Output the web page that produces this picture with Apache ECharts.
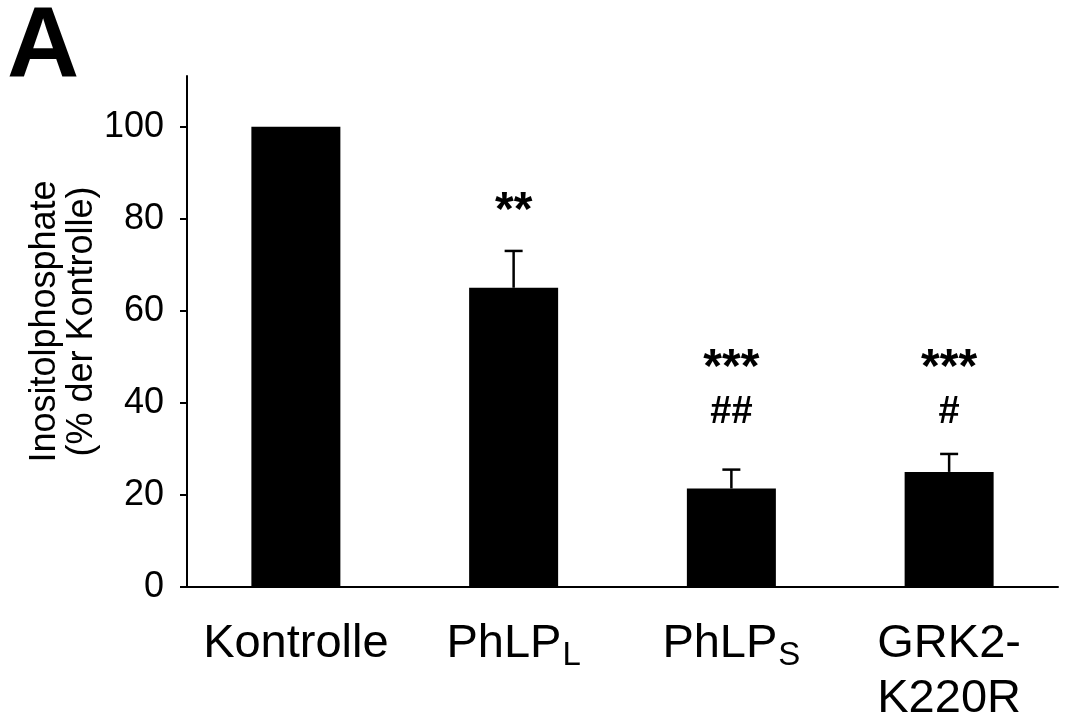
<!DOCTYPE html>
<html>
<head>
<meta charset="utf-8">
<script src="https://cdn.jsdelivr.net/npm/echarts@6/dist/echarts.min.js"></script>
<style>
  html, body { margin: 0; padding: 0; background: #fff; }
</style>
</head>
<body>
<div id="myChart" style="width: 1079px; height: 713px;"></div>
<script>
  // Daten
  var categories = ['Kontrolle', 'PhLP_L', 'PhLP_S', 'GRK2-\nK220R'];
  var values = [100, 65, 21.4, 25];
  var errors = [0, 8, 4.1, 3.9];
  var yTicks = [0, 20, 40, 60, 80, 100];
  // Signifikanz-Markierungen (Text + Höhe in Achsen-Einheiten)
  var sigStars = ['', '**', '***', '***'];
  var sigStarsY = [0, 81.5, 47.3, 47.3];
  var sigHash = ['', '', '##', '#'];
  var sigHashY = [0, 0, 37.9, 37.9];

  var FONT = '"Liberation Sans", Arial, Helvetica, sans-serif';

  var myChart = echarts.init(document.getElementById('myChart'));

  function sigData(texts, ys, size) {
    var out = [];
    for (var i = 0; i < texts.length; i++) {
      if (texts[i]) out.push([i, ys[i], texts[i], size]);
    }
    return out;
  }
  var sigAll = sigData(sigStars, sigStarsY, 48).concat(sigData(sigHash, sigHashY, 38));

  // Text-Markierung über custom series
  function renderSig(params, api) {
    var d = sigAll[params.dataIndex];
    var p = api.coord([api.value(0), api.value(1)]);
    return {
      type: 'text',
      x: p[0],
      y: p[1],
      style: {
        text: d[2],
        fill: '#000',
        font: 'bold ' + d[3] + 'px ' + FONT,
        textAlign: 'center',
        textVerticalAlign: 'middle'
      }
    };
  }

  myChart.setOption({
    animation: false,
    backgroundColor: '#fff',
    title: {
      text: 'A',
      left: 2,
      top: -6,
      textStyle: { fontSize: 100, fontWeight: 'bold', color: '#000', fontFamily: FONT }
    },
    grid: { left: 187, right: 21, top: 76, bottom: 126, outerBoundsMode: 'none', containLabel: false },
    xAxis: {
      type: 'category',
      data: categories,
      axisLine: { lineStyle: { color: '#000', width: 2 } },
      axisTick: { show: false },
      axisLabel: {
        interval: 0,
        margin: 30,
        color: '#000',
        fontFamily: FONT,
        fontSize: 47,
        lineHeight: 55,
        formatter: function (val) {
          var p = val.split('_');
          if (p.length === 2) return '{m|' + p[0] + '}{s|' + p[1] + '}';
          return val.split('\n').map(function (l) { return '{m|' + l + '}'; }).join('\n');
        },
        rich: {
          m: { fontSize: 47, fontFamily: FONT, color: '#000', lineHeight: 55 },
          s: { fontSize: 33, fontFamily: FONT, color: '#000', lineHeight: 30, verticalAlign: 'bottom', padding: [0, 0, 0, 1] }
        }
      }
    },
    yAxis: {
      type: 'value',
      min: 0,
      max: 111,
      interval: 20,
      name: 'Inositolphosphate\n(% der Kontrolle)',
      nameLocation: 'middle',
      nameGap: 86,
      nameMoveOverlap: false,
      nameTextStyle: { fontSize: 36, color: '#000', fontFamily: FONT, lineHeight: 37, padding: [0, 0, 0, 20] },
      splitLine: { show: false },
      axisLine: { show: true, lineStyle: { color: '#000', width: 2 } },
      axisTick: { show: true, length: 7, lineStyle: { color: '#000', width: 2 }, customValues: yTicks },
      axisLabel: { margin: 23, color: '#000', fontSize: 36, fontFamily: FONT, customValues: yTicks }
    },
    series: [
      {
        type: 'bar',
        data: values,
        barWidth: 89,
        itemStyle: { color: '#000' }
      },
      {
        type: 'custom',
        data: values.map(function (v, i) { return [i, v, v + errors[i]]; }),
        renderItem: function (params, api) {
          if (api.value(2) <= api.value(1)) return null;
          var lo = api.coord([api.value(0), api.value(1)]);
          var hi = api.coord([api.value(0), api.value(2)]);
          var style = { stroke: '#000', lineWidth: 2.5 };
          return {
            type: 'group',
            children: [
              { type: 'line', shape: { x1: lo[0], y1: lo[1], x2: hi[0], y2: hi[1] }, style: style },
              { type: 'line', shape: { x1: hi[0] - 9, y1: hi[1], x2: hi[0] + 9, y2: hi[1] }, style: style }
            ]
          };
        },
        z: 5
      },
      {
        type: 'custom',
        data: sigAll.map(function (d) { return [d[0], d[1]]; }),
        renderItem: renderSig,
        z: 6
      }
    ]
  });
</script>
</body>
</html>
